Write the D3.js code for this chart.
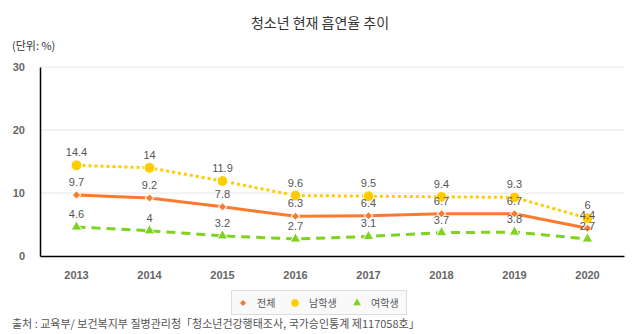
<!DOCTYPE html>
<html><head><meta charset="utf-8">
<script src="https://cdn.jsdelivr.net/npm/d3@7/dist/d3.min.js"></script>
<style>body{margin:0;background:#fff;}svg{display:block;font-family:"Noto Sans CJK KR","Noto Sans",sans-serif;}</style>
</head><body><svg id="c" width="640" height="334"></svg>
<script>
const years = ["2013","2014","2015","2016","2017","2018","2019","2020"];
const total = [9.7, 9.2, 7.8, 6.3, 6.4, 6.7, 6.7, 4.4];
const boys = [14.4, 14, 11.9, 9.6, 9.5, 9.4, 9.3, 6];
const girls = [4.6, 4, 3.2, 2.7, 3.1, 3.7, 3.8, 2.7];
const yTicks = [0, 10, 20, 30];
const seriesNames = ["전체", "남학생", "여학생"];

const svg = d3.select("#c");
const L = 40, R = 624, T = 67, B = 256;
const x = d3.scaleBand().domain(years).range([L, R]);
const y = d3.scaleLinear().domain([0, 30]).range([B, T]);
const cx = d => x(d) + x.bandwidth() / 2;

svg.append("text").attr("x", 320).attr("y", 28).attr("text-anchor", "middle")
  .attr("font-size", 14).attr("fill", "#333").text("청소년 현재 흡연율 추이");
svg.append("text").attr("x", 12).attr("y", 50).attr("font-size", 11).attr("fill", "#333").text("(단위: %)");

// grid
svg.append("g").selectAll("line").data(yTicks.filter(t => t > 0)).join("line")
  .attr("x1", L).attr("x2", R).attr("y1", d => y(d)).attr("y2", d => y(d))
  .attr("stroke", "#e6e6e6").attr("stroke-width", 1);

const yAxis = svg.append("g").attr("transform", `translate(${L},0)`)
  .call(d3.axisLeft(y).tickValues(yTicks).tickSize(0).tickPadding(15));
yAxis.select(".domain").attr("stroke", "#000").attr("stroke-width", 1.5);
yAxis.selectAll("text").attr("font-size", 11).attr("fill", "#666").attr("font-weight", "bold")
  .attr("font-family", "Liberation Sans, Arial, sans-serif");

const xAxis = svg.append("g").attr("transform", `translate(0,${B})`)
  .call(d3.axisBottom(x).tickSize(0).tickPadding(15));
xAxis.select(".domain").attr("stroke", "#000").attr("stroke-width", 1.5);
xAxis.selectAll("text").attr("font-size", 11).attr("fill", "#666").attr("font-weight", "bold")
  .attr("font-family", "Liberation Sans, Arial, sans-serif");

const series = [
  {name: seriesNames[0], vals: total, color: "#fb7a2e", dash: null, sym: d3.symbolSquare, rot: 45, size: 36, lsize: 18},
  {name: seriesNames[1], vals: boys, color: "#ffcc00", dash: "3,3", sym: d3.symbolCircle, rot: 0, size: 90, lsize: 45},
  {name: seriesNames[2], vals: girls, color: "#7ed321", dash: "9,6", sym: d3.symbolTriangle, rot: 0, size: 50, lsize: 26},
];
const line = d3.line().x((d, i) => cx(years[i])).y(d => y(d));

const drawOrder = [series[1], series[0], series[2]];
drawOrder.forEach(s => {
  svg.append("path").datum(s.vals).attr("d", line).attr("fill", "none")
    .attr("stroke", s.color).attr("stroke-width", 3)
    .attr("stroke-dasharray", s.dash);
  svg.append("g").selectAll("path").data(s.vals).join("path")
    .attr("transform", (d, i) => `translate(${cx(years[i])},${y(d)}) rotate(${s.rot})`)
    .attr("d", d3.symbol().type(s.sym).size(s.size))
    .attr("fill", s.color).attr("stroke", "#fff").attr("stroke-width", 1);
});
series.forEach(s => {
  svg.append("g").selectAll("text").data(s.vals).join("text")
    .attr("x", (d, i) => cx(years[i])).attr("y", d => y(d) - 9)
    .attr("text-anchor", "middle").attr("font-size", 11).attr("fill", "#555")
    .attr("font-family", "Liberation Sans, Arial, sans-serif")
    .text(d => d);
});

// legend
const lg = svg.append("g");
lg.append("rect").attr("x", 231.5).attr("y", 290.5).attr("width", 175).attr("height", 24)
  .attr("fill", "#f9f9f9").attr("stroke", "#ddd");
const lx = [243, 295, 357];
series.forEach((s, i) => {
  lg.append("path").attr("transform", `translate(${lx[i]},303) rotate(${s.rot})`)
    .attr("d", d3.symbol().type(s.sym).size(s.lsize)).attr("fill", s.color);
  lg.append("text").attr("x", lx[i] + 14).attr("y", 306.5).attr("font-size", 10).attr("fill", "#555").text(s.name);
});

svg.append("text").attr("x", 12).attr("y", 328).attr("font-size", 11).attr("fill", "#555")
  .text("출처 : 교육부/ 보건복지부 질병관리청「청소년건강행태조사, 국가승인통계 제117058호」");
</script></body></html>
